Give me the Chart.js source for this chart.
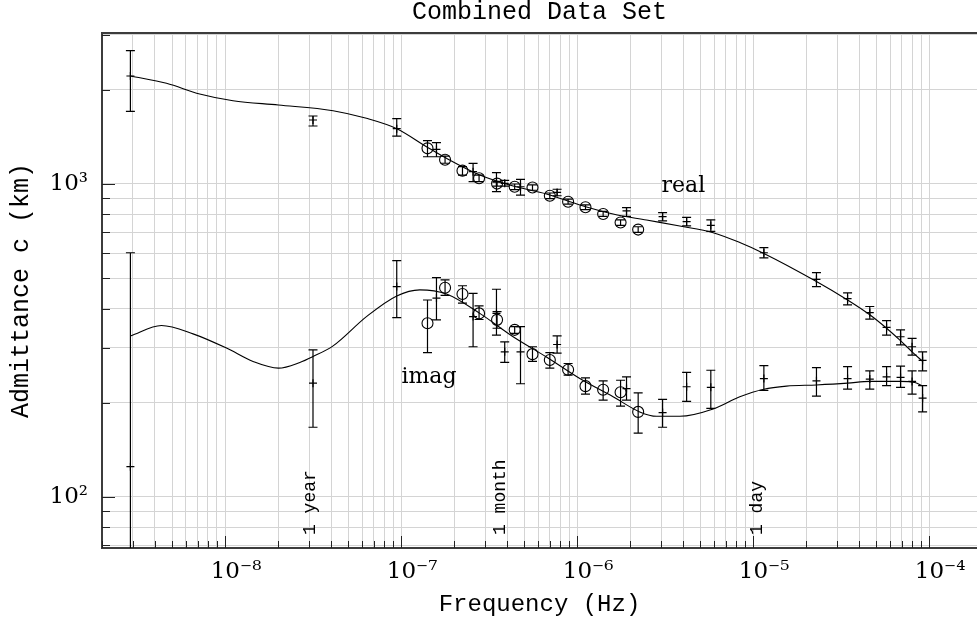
<!DOCTYPE html>
<html><head><meta charset="utf-8">
<script src="https://cdn.jsdelivr.net/npm/chart.js@4.4.1/dist/chart.umd.min.js"></script>
<style>html,body{margin:0;padding:0;background:#fff;} canvas{display:block;}</style>
</head><body>
<canvas id="c" width="977" height="623"></canvas>
<script>
const chartTitle = 'Combined Data Set';
const xAxisTitle = 'Frequency (Hz)';
const yAxisTitle = 'Admittance c (km)';

const xDecades = [1e-8, 1e-7, 1e-6, 1e-5, 1e-4];
const xDecadeLabels = ['10⁻⁸', '10⁻⁷', '10⁻⁶', '10⁻⁵', '10⁻⁴'];
const yDecades = [100, 1000];
const yDecadeLabels = ['10²', '10³'];

// measurements drawn with "+" markers
const plusFreq   = [2.9e-9,3.16e-8,9.45e-8,1.589e-7,2.565e-7,3.483e-7,3.88e-7,4.77e-7,7.7e-7,1.909e-6,3.06e-6,4.19e-6,5.75e-6,1.151e-5,2.29e-5,3.44e-5,4.60e-5,5.73e-5,6.88e-5,8.0e-5,9.18e-5];
const plusReal   = [2213,1601,1502,1290,1095,1013,1005,980,940,820,786,758,737,603,496,430,388,348,325,302,273];
const plusRealLo = [1707,1532,1423,1222,1017,945,985,922,917,788,762,735,706,581,470,411,370,329,306,284,253];
const plusRealHi = [2667,1649,1617,1355,1164,1087,1027,1035,962,840,810,782,768,626,521,449,406,366,342,321,291];
const plusImag   = [125,231,470,432,377,386,291,291,307,222,186,225,224,239,235,239,238,242,241,234,207];
const plusImagLo = [50,167,374,368,302,329,269,230,288,204,167,202,192,219,210,221,221,227,224,213,187];
const plusImagHi = [603,295,569,502,447,461,313,350,327,242,205,250,254,263,259,261,253,261,262,253,227];

// measurements drawn with circles
const circFreq   = [1.413e-7,1.778e-7,2.233e-7,2.774e-7,3.51e-7,4.42e-7,5.58e-7,7.0e-7,8.89e-7,1.116e-6,1.406e-6,1.766e-6,2.223e-6];
const circReal   = [1300,1195,1103,1043,1003,980,974,917,878,843,802,753,715];
const circRealLo = [1222,1165,1068,1018,985,960,955,898,862,828,788,738,700];
const circRealHi = [1375,1228,1136,1068,1020,1000,993,936,895,858,817,768,730];
const circImag   = [359,466,445,386,368,342,286,274,255,226,220,216,187];
const circImagLo = [289,441,416,369,346,333,271,258,245,213,204,195,160];
const circImagHi = [426,494,473,408,391,350,302,289,267,240,235,236,215];

// model curves
const realCurveFreq = [2.9e-9,4.65e-9,7.18e-9,1.11e-8,2.01e-8,4.11e-8,6.36e-8,9.45e-8,1.394e-7,1.811e-7,2.80e-7,4.33e-7,6.70e-7,1.036e-6,1.601e-6,2.48e-6,3.83e-6,5.93e-6,8.40e-6,1.151e-5,2.29e-5,3.44e-5,4.60e-5,5.73e-5,6.82e-5,8.0e-5,9.18e-5];
const realCurve     = [2213,2098,1939,1845,1788,1715,1621,1502,1316,1208,1068,985,929,857,802,767,734,699,650,600,488,426,382,346,317,291,271];
const imagCurveFreq = [2.9e-9,4.35e-9,6.58e-9,1.019e-8,1.443e-8,2.01e-8,2.66e-8,3.16e-8,4.11e-8,6.36e-8,9.45e-8,1.277e-7,1.811e-7,2.80e-7,4.33e-7,6.70e-7,1.036e-6,1.601e-6,2.27e-6,2.825e-6,3.83e-6,5.93e-6,8.40e-6,1.151e-5,1.548e-5,2.29e-5,3.44e-5,4.60e-5,6.82e-5,8.30e-5,9.18e-5];
const imagCurve     = [327,353,332,299,271,258,269,281,304,377,439,459,445,386,325,280,239,209,187,181,181,191,209,221,226,228,231,234,234,232,226];

// text notes inside the plot
const noteTexts = ['real', 'imag'];
const noteFreq  = [3.02e-6, 1.005e-7];
const noteVal   = [945, 231];
const periodTexts = ['1 year', '1 month', '1 day'];
const periodFreq  = [3.03e-8, 3.64e-7, 1.05e-5];
const periodVal   = [75.6, 75.6, 75.6];

function pts(fs, vs, lo, hi) {
  return fs.map((f, i) => lo ? {x: f, y: vs[i], lo: lo[i], hi: hi[i]} : {x: f, y: vs[i]});
}
function genTicks(min, max) {
  const out = [];
  for (let e = Math.floor(Math.log10(min)); e <= Math.ceil(Math.log10(max)); e++) {
    for (let m = 1; m <= 9; m++) {
      const v = m * Math.pow(10, e);
      if (v >= min * (1 - 1e-9) && v <= max * (1 + 1e-9)) out.push(v);
    }
  }
  return out;
}
function isDecade(v) { const l = Math.log10(v); return Math.abs(l - Math.round(l)) < 1e-6; }
function lookup(v, decs, labs) {
  for (let i = 0; i < decs.length; i++) if (Math.abs(v / decs[i] - 1) < 1e-6) return labs[i];
  return '';
}

const overlay = {
  id: 'overlay',
  afterDatasetsDraw(chart) {
    const {ctx, chartArea: a, scales: {x, y}} = chart;
    ctx.save();
    ctx.beginPath(); ctx.rect(a.left, a.top, a.right - a.left, a.bottom - a.top); ctx.clip();
    ctx.strokeStyle = '#000'; ctx.lineWidth = 1.2;
    chart.data.datasets.forEach((ds) => {
      if (!ds.errorBars) return;
      ds.data.forEach(p => {
        const px = x.getPixelForValue(p.x);
        const y1 = y.getPixelForValue(p.lo), y2 = y.getPixelForValue(p.hi);
        ctx.beginPath();
        ctx.moveTo(px, y1); ctx.lineTo(px, y2);
        ctx.moveTo(px - 4.5, y1); ctx.lineTo(px + 4.5, y1);
        ctx.moveTo(px - 4.5, y2); ctx.lineTo(px + 4.5, y2);
        ctx.stroke();
      });
    });
    ctx.restore();
  },
  afterDraw(chart) {
    const {ctx, chartArea: a, scales: {x, y}} = chart;
    ctx.save();
    // top frame
    ctx.strokeStyle = '#3c3c3c'; ctx.lineWidth = 2;
    ctx.beginPath(); ctx.moveTo(a.left - 1, a.top); ctx.lineTo(a.right, a.top); ctx.stroke();
    // inward tick marks
    ctx.strokeStyle = '#222'; ctx.lineWidth = 1;
    y.ticks.forEach(t => {
      const py = Math.round(y.getPixelForValue(t.value)) + 0.5;
      const len = isDecade(t.value) ? 13 : 8;
      ctx.beginPath(); ctx.moveTo(a.left, py); ctx.lineTo(a.left + len, py); ctx.stroke();
    });
    x.ticks.forEach(t => {
      const px = Math.round(x.getPixelForValue(t.value)) + 0.5;
      const len = isDecade(t.value) ? 12 : 7;
      ctx.beginPath(); ctx.moveTo(px, a.bottom); ctx.lineTo(px, a.bottom - len); ctx.stroke();
    });
    // notes
    ctx.fillStyle = '#000';
    ctx.font = '22px "DejaVu Serif"';
    ctx.textAlign = 'left'; ctx.textBaseline = 'alphabetic';
    noteTexts.forEach((t, i) => ctx.fillText(t, x.getPixelForValue(noteFreq[i]), y.getPixelForValue(noteVal[i])));
    ctx.font = '18px "Liberation Mono"';
    ctx.textBaseline = 'middle';
    periodTexts.forEach((t, i) => {
      ctx.save();
      ctx.translate(x.getPixelForValue(periodFreq[i]), y.getPixelForValue(periodVal[i]));
      ctx.rotate(-Math.PI / 2);
      ctx.fillText(t, 0, 0);
      ctx.restore();
    });
    ctx.restore();
  }
};

const tickFont = {family: '"DejaVu Serif"', size: 23};
const monoFont = (s) => ({family: '"Liberation Mono"', size: s, weight: 'normal', lineHeight: 1.2});

new Chart(document.getElementById('c'), {
  type: 'scatter',
  data: {
    datasets: [
      {type: 'line', data: pts(realCurveFreq, realCurve), borderColor: '#000', borderWidth: 1.1, pointRadius: 0, cubicInterpolationMode: 'monotone', fill: false},
      {type: 'line', data: pts(imagCurveFreq, imagCurve), borderColor: '#000', borderWidth: 1.1, pointRadius: 0, cubicInterpolationMode: 'monotone', fill: false},
      {data: pts(plusFreq, plusReal, plusRealLo, plusRealHi), errorBars: true, pointStyle: 'cross', pointRadius: 4, borderColor: '#000', borderWidth: 1.2, backgroundColor: '#000'},
      {data: pts(plusFreq, plusImag, plusImagLo, plusImagHi), errorBars: true, pointStyle: 'cross', pointRadius: 4, borderColor: '#000', borderWidth: 1.2, backgroundColor: '#000'},
      {data: pts(circFreq, circReal, circRealLo, circRealHi), errorBars: true, pointStyle: 'circle', pointRadius: 5.5, borderColor: '#000', borderWidth: 1.1, backgroundColor: 'rgba(0,0,0,0)'},
      {data: pts(circFreq, circImag, circImagLo, circImagHi), errorBars: true, pointStyle: 'circle', pointRadius: 5.5, borderColor: '#000', borderWidth: 1.1, backgroundColor: 'rgba(0,0,0,0)'}
    ]
  },
  options: {
    responsive: false, animation: false, devicePixelRatio: 1,
    layout: {padding: 0, autoPadding: false},
    plugins: {
      legend: {display: false}, tooltip: {enabled: false},
      title: {display: true, text: chartTitle, fullSize: false, color: '#000',
        font: {family: '"Liberation Mono"', size: 25, weight: 'normal', lineHeight: 1.0},
        padding: {top: 0, bottom: 8}}
    },
    scales: {
      x: {
        type: 'logarithmic', min: 2.0e-9, max: 1.87e-4,
        afterBuildTicks: s => { s.ticks = genTicks(s.min, s.max).map(v => ({value: v})); },
        afterFit: s => { s.height = 75; },
        ticks: {autoSkip: false, maxRotation: 0, minRotation: 0, padding: 10, labelOffset: 11, font: tickFont, color: '#000',
          callback: v => lookup(v, xDecades, xDecadeLabels)},
        grid: {color: '#d4d4d4', lineWidth: 1, drawTicks: false},
        border: {color: '#3c3c3c', width: 2},
        title: {display: true, text: xAxisTitle, color: '#000', font: monoFont(24), padding: {top: 0, bottom: 4}}
      },
      y: {
        type: 'logarithmic', min: 68.7, max: 3037,
        afterBuildTicks: s => { s.ticks = genTicks(s.min, s.max).map(v => ({value: v})); },
        afterFit: s => { s.width = 102; },
        ticks: {autoSkip: false, padding: 14, font: tickFont, color: '#000',
          callback: v => lookup(v, yDecades, yDecadeLabels)},
        grid: {color: '#d4d4d4', lineWidth: 1, drawTicks: false},
        border: {color: '#3c3c3c', width: 2},
        title: {display: true, text: yAxisTitle, color: '#000', font: monoFont(25), padding: {top: 6, bottom: 0}}
      }
    }
  },
  plugins: [overlay]
});
</script>
</body></html>
